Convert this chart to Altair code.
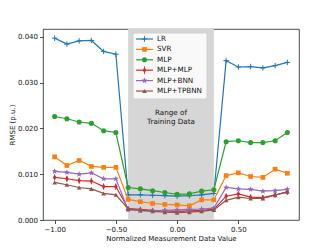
import math
import altair as alt
import pandas as pd

# ---------------- data ----------------
x_vals = [-1.0, -0.9, -0.8, -0.7, -0.6, -0.5, -0.4, -0.3, -0.2, -0.1,
          0.0, 0.1, 0.2, 0.3, 0.4, 0.5, 0.6, 0.7, 0.8, 0.9]

lr = [0.0397, 0.0384, 0.0391, 0.0392, 0.0368, 0.0362,
      0.0055, 0.0055, 0.0054, 0.0053, 0.0052, 0.0053, 0.0055, 0.0058,
      0.0348, 0.0334, 0.0335, 0.0332, 0.0337, 0.0344]
svr = [0.0138, 0.0119, 0.0130, 0.0117, 0.0115, 0.0115,
       0.0045, 0.0040, 0.0036, 0.0034, 0.0033, 0.0031, 0.0044, 0.0044,
       0.0097, 0.0103, 0.0095, 0.0093, 0.0111, 0.0102]
mlp = [0.0226, 0.0221, 0.0214, 0.0211, 0.0195, 0.0191,
       0.0071, 0.0068, 0.0064, 0.0060, 0.0056, 0.0057, 0.0063, 0.0066,
       0.0171, 0.0173, 0.0169, 0.0169, 0.0173, 0.0191]
mlp_mlp = [0.0093, 0.0090, 0.0086, 0.0085, 0.0073, 0.0073,
           0.0025, 0.0023, 0.0021, 0.0020, 0.0019, 0.0020, 0.0021, 0.0023,
           0.0052, 0.0057, 0.0050, 0.0049, 0.0055, 0.0061]
mlp_mlp_err = [0.0007, 0.0007, 0.0007, 0.0007, 0.0007, 0.0007,
               0.0003, 0.0003, 0.0003, 0.0003, 0.0003, 0.0003, 0.0003, 0.0003,
               0.0006, 0.0006, 0.0006, 0.0006, 0.0006, 0.0006]
mlp_bnn = [0.0106, 0.0104, 0.0100, 0.0103, 0.0090, 0.0090,
           0.0022, 0.0021, 0.0020, 0.0021, 0.0022, 0.0023, 0.0024, 0.0026,
           0.0071, 0.0068, 0.0067, 0.0063, 0.0064, 0.0067]
mlp_tpbnn = [0.0082, 0.0077, 0.0071, 0.0068, 0.0058, 0.0055,
             0.0024, 0.0021, 0.0019, 0.0017, 0.0016, 0.0017, 0.0019, 0.0022,
             0.0043, 0.0050, 0.0047, 0.0047, 0.0054, 0.0062]

series_names = ["LR", "SVR", "MLP", "MLP+MLP", "MLP+BNN", "MLP+TPBNN"]
series_values = [lr, svr, mlp, mlp_mlp, mlp_bnn, mlp_tpbnn]
colors = ["#1f77b4", "#ff7f0e", "#2ca02c", "#d62728", "#9467bd", "#8c564b"]

train_range = [-0.4, 0.3]
x_ticks = [-1.0, -0.75, -0.5, -0.25, 0.0, 0.25, 0.5, 0.75]
y_ticks = [0.0, 0.005, 0.010, 0.015, 0.020, 0.025, 0.030, 0.035, 0.040]

# ---------------- styles ----------------
def star_path(outer=1.0, inner=0.42):
    pts = []
    for k in range(10):
        r = outer if k % 2 == 0 else inner
        a = -math.pi / 2 + k * math.pi / 5
        pts.append(f"{r*math.cos(a):.3f},{r*math.sin(a):.3f}")
    return "M" + "L".join(pts) + "Z"

shapes = {
    "LR": "M-1,0L1,0M0,-1L0,1",
    "SVR": "square",
    "MLP": "circle",
    "MLP+MLP": "M0,-1L0.62,0L0,1L-0.62,0Z",
    "MLP+BNN": star_path(),
    "MLP+TPBNN": "triangle-up",
}
sizes = {"LR": 30, "SVR": 22, "MLP": 26, "MLP+MLP": 34, "MLP+BNN": 40, "MLP+TPBNN": 22}

FONT = "DejaVu Sans"
W, H = 256, 191

rows = []
for name, vals in zip(series_names, series_values):
    for i, (xv, yv) in enumerate(zip(x_vals, vals)):
        r = {"series": name, "x": xv, "y": yv}
        if name == "MLP+MLP":
            r["lo"] = yv - mlp_mlp_err[i]
            r["hi"] = yv + mlp_mlp_err[i]
        rows.append(r)
df = pd.DataFrame(rows)

xscale = alt.Scale(domain=[-1.095, 0.995], nice=False, zero=False)
yscale = alt.Scale(domain=[0, 0.0417], nice=False, zero=False)

base = alt.Chart(df)

span_df = pd.DataFrame({"x0": [train_range[0]], "x1": [train_range[1]]})
span = alt.Chart(span_df).mark_rect(color="#d6d6d6").encode(
    x=alt.X("x0:Q", scale=xscale,
            axis=alt.Axis(values=x_ticks, format=".2f",
                          title="Normalized Measurement Data Value")),
    x2="x1:Q",
    y=alt.value(0), y2=alt.value(H),
)
span_text = alt.Chart(span_df).transform_calculate(
    xm="(datum.x0 + datum.x1) / 2"
).mark_text(
    text=["Range of", "Training Data"], font=FONT, fontSize=7.2,
    lineHeight=8.5, baseline="middle", align="center", color="#111"
).encode(x=alt.X("xm:Q", scale=xscale), y=alt.value(84))

xenc = alt.X("x:Q", scale=xscale)
yenc = alt.Y("y:Q", scale=yscale,
             axis=alt.Axis(values=y_ticks, format=".3f", title="RMSE (p.u.)"))

layers = [span, span_text]
for name, col in zip(series_names, colors):
    sub = base.transform_filter(alt.datum.series == name)
    if name == "MLP+MLP":
        layers.append(sub.mark_rule(color=col, strokeWidth=1, opacity=0.8).encode(
            x=xenc, y=alt.Y("lo:Q", scale=yscale), y2="hi:Q"))
    layers.append(sub.mark_line(color=col, strokeWidth=1.2).encode(x=xenc, y=yenc))
    if name == "LR":
        layers.append(sub.mark_point(shape=shapes[name], size=sizes[name],
                                     filled=False, color=col, strokeWidth=1,
                                     opacity=1).encode(x=xenc, y=yenc))
    else:
        layers.append(sub.mark_point(shape=shapes[name], size=sizes[name],
                                     filled=True, color=col, opacity=1,
                                     strokeWidth=0).encode(x=xenc, y=yenc))
main = alt.layer(*layers)

# ---------------- legend ----------------
leg_df = pd.DataFrame({"series": series_names, "idx": list(range(len(series_names)))})
leg_base = alt.Chart(leg_df)
ly = alt.Y("idx:O", scale=alt.Scale(type="point", range=[10, 62], padding=0), axis=None)
lx0, lx1 = 93, 110
lxm = (lx0 + lx1) / 2
leg_layers = [
    leg_base.transform_filter(alt.datum.idx == 0).mark_rect(
        fill="white", fillOpacity=0.85, stroke="#cccccc", strokeWidth=0.8, cornerRadius=2
    ).encode(x=alt.value(90), x2=alt.value(164), y=alt.value(4), y2=alt.value(70)),
    leg_base.mark_rule(strokeWidth=1.2).encode(
        x=alt.value(lx0), x2=alt.value(lx1), y=ly,
        color=alt.Color("series:N", scale=alt.Scale(domain=series_names, range=colors), legend=None)),
    leg_base.mark_text(align="left", baseline="middle", font=FONT, fontSize=7.2,
                       color="#111").encode(x=alt.value(114), y=ly, text="series:N"),
]
for name, col in zip(series_names, colors):
    sub = leg_base.transform_filter(alt.datum.series == name)
    if name == "LR":
        leg_layers.append(sub.mark_point(shape=shapes[name], size=sizes[name], filled=False,
                                         color=col, strokeWidth=1, opacity=1).encode(
            x=alt.value(lxm), y=ly))
    else:
        if name == "MLP+MLP":
            leg_layers.append(sub.mark_tick(orient="vertical", size=8, thickness=1,
                                            color=col, opacity=0.8).encode(
                x=alt.value(lxm), y=ly))
        leg_layers.append(sub.mark_point(shape=shapes[name], size=sizes[name], filled=True,
                                         color=col, opacity=1, strokeWidth=0).encode(
            x=alt.value(lxm), y=ly))
legend = alt.layer(*leg_layers)

chart = alt.layer(main, legend).resolve_scale(y="independent").properties(
    width=W, height=H,
    autosize=alt.AutoSizeParams(type="none"),
    padding={"left": 35, "top": 21, "right": 25, "bottom": 28},
).configure_view(
    stroke="#222", strokeWidth=0.8
).configure_axis(
    grid=False, domain=False, tickColor="#222", tickWidth=0.8, tickSize=3.5,
    labelFont=FONT, labelFontSize=7, labelColor="#111", labelPadding=2,
    titleFont=FONT, titleFontSize=7, titleFontWeight="normal", titleColor="#111",
    titlePadding=2,
)

chart.save("out.html", embed_options={"renderer": "svg", "actions": False})
